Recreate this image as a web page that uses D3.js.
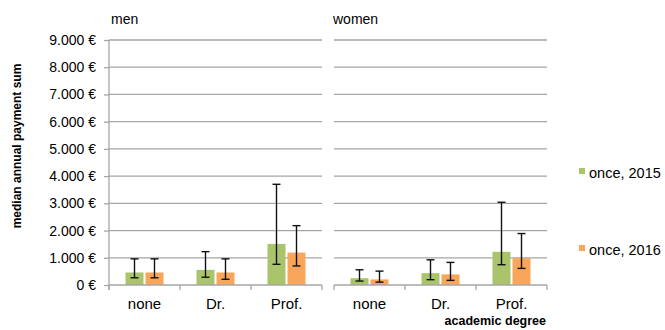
<!DOCTYPE html>
<html><head><meta charset="utf-8">
<script src="https://cdn.jsdelivr.net/npm/d3@7"></script>
<style>
body{margin:0;background:#fff;}
text{font-family:"Liberation Sans",Arial,sans-serif;fill:#000;}
</style></head>
<body><svg id="c" width="665" height="330"></svg>
<script>
const panels = ["men", "women"];
const categories = ["none", "Dr.", "Prof."];
const seriesNames = ["once, 2015", "once, 2016"];
const colors = ["#A9C46A", "#F9A65A"];
// values [panel][category]
const values2015 = [[460, 555, 1510], [250, 435, 1220]];
const values2016 = [[460, 460, 1190], [205, 390, 985]];
const errHigh2015 = [[960, 1225, 3700], [560, 925, 3040]];
const errLow2015 = [[265, 285, 760], [145, 195, 745]];
const errHigh2016 = [[960, 960, 2180], [510, 830, 1890]];
const errLow2016 = [[265, 210, 700], [105, 170, 610]];
const yTicks = [0,1000,2000,3000,4000,5000,6000,7000,8000,9000];

const svg = d3.select("#c");
const y = d3.scaleLinear().domain([0, 9000]).range([285, 40]);
const fmt = v => d3.format(",")(v).replace(/,/g, ".") + " €";
const panelX = [[109, 322], [334, 547]];
const gridColor = "#a6a6a6";

// y-axis labels
const ya = svg.append("g").attr("transform", "translate(109,0)");
ya.call(d3.axisLeft(y).tickValues(yTicks).tickFormat(fmt).tickSize(5).tickPadding(8));
ya.select(".domain").attr("stroke", gridColor).attr("stroke-width", 1.3).attr("d", "M0,40V290");
ya.selectAll(".tick line").attr("stroke", gridColor).attr("stroke-width", 1.3);
ya.selectAll(".tick text").style("font-size", "14px").attr("fill", "#000");

const series = [
  {v: values2015, hi: errHigh2015, lo: errLow2015},
  {v: values2016, hi: errHigh2016, lo: errLow2016}
];

panels.forEach((p, pi) => {
  const [x0, x1] = panelX[pi];
  const g = svg.append("g");
  // gridlines
  g.selectAll("line.grid").data(yTicks.filter(d => d > 0)).join("line")
    .attr("x1", x0).attr("x2", x1).attr("y1", d => y(d)).attr("y2", d => y(d))
    .attr("stroke", gridColor).attr("stroke-width", 1.3);
  const x = d3.scaleBand().domain(categories).range([x0, x1]);
  const xs = d3.scaleBand().domain([0, 1]).range([0, x.bandwidth()]).paddingInner(0.1).paddingOuter(0.825);
  // bars
  series.forEach((s, si) => {
    g.selectAll("rect.s" + si).data(categories).join("rect")
      .attr("x", c => x(c) + xs(si)).attr("width", xs.bandwidth())
      .attr("y", (c, ci) => y(s.v[pi][ci])).attr("height", (c, ci) => y(0) - y(s.v[pi][ci]))
      .attr("fill", colors[si]);
  });
  // error bars
  series.forEach((s, si) => {
    categories.forEach((c, ci) => {
      const cx = x(c) + xs(si) + xs.bandwidth() / 2;
      const yh = y(s.hi[pi][ci]), yl = y(s.lo[pi][ci]);
      g.append("line").attr("x1", cx).attr("x2", cx).attr("y1", yh).attr("y2", yl).attr("stroke", "#111").attr("stroke-width", 1.4);
      [yh, yl].forEach(yy => g.append("line").attr("x1", cx - 4).attr("x2", cx + 4).attr("y1", yy).attr("y2", yy).attr("stroke", "#111").attr("stroke-width", 1.4));
    });
  });
  // x axis
  const xa = g.append("g").attr("transform", `translate(0,${y(0)})`)
    .call(d3.axisBottom(x).tickSize(0).tickPadding(13));
  xa.select(".domain").attr("stroke", gridColor).attr("stroke-width", 1.3).attr("d", `M${x0},0H${x1}`);
  xa.selectAll(".tick text").style("font-size", "15px").attr("fill", "#000");
  // category separators
  const seps = [x0].concat(categories.map(c => x(c) + x.bandwidth()));
  g.selectAll("line.sep").data(seps).join("line")
    .attr("x1", d => d).attr("x2", d => d).attr("y1", y(0)).attr("y2", y(0) + 5)
    .attr("stroke", gridColor).attr("stroke-width", 1.3);
  // panel title
  svg.append("text").attr("x", pi === 0 ? 111 : 333).attr("y", 24).style("font-size", "14px").text(p);
});

// y title
svg.append("text").attr("transform", "translate(21,146) rotate(-90)").attr("text-anchor", "middle")
  .style("font-size", "12px").style("font-weight", "bold").text("median annual payment sum");
// x title
svg.append("text").attr("x", 546).attr("y", 325).attr("text-anchor", "end")
  .style("font-size", "12.5px").style("font-weight", "bold").text("academic degree");

// legend
const legY = [168, 245];
seriesNames.forEach((n, i) => {
  svg.append("rect").attr("x", 579).attr("y", legY[i]).attr("width", 6).attr("height", 6).attr("fill", colors[i]);
  svg.append("text").attr("x", 589).attr("y", legY[i] + 10).style("font-size", "14.5px").text(n);
});
</script></body></html>
